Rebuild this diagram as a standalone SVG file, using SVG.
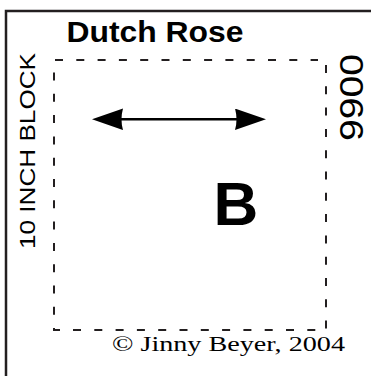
<svg xmlns="http://www.w3.org/2000/svg" width="371" height="376" viewBox="0 0 371 376">
<style>
.dash{fill:none;stroke:#231f20;stroke-width:2;stroke-dasharray:8 13.3}
.sans{font-family:"Liberation Sans",Arial,sans-serif;fill:#000}
.serif{font-family:"Liberation Serif","Times New Roman",serif;fill:#000}
</style>
<defs>
<marker id="ah" markerUnits="userSpaceOnUse" markerWidth="32" markerHeight="22" viewBox="0 0 32 22" refX="23" refY="10.75" orient="auto-start-reverse">
<path d="M0,0 L31,10.75 L0,21.5 Q3,10.75 0,0 Z" fill="#000"/>
</marker>
</defs>
<rect width="371" height="376" fill="#fff"/>
<g id="border">
<rect x="6" y="11" width="420" height="420" fill="none" stroke="#231f20" stroke-width="2.5"/>
</g>
<g id="block">
<path class="dash" d="M55,60 H318"/>
<path class="dash" d="M54,72.5 V330 H60"/>
<path class="dash" d="M73,330 H316"/>
<path class="dash" d="M326,65 V329"/>
</g>
<g id="title"><text class="sans" x="66.5" y="41.5" font-size="29" font-weight="bold" textLength="177" lengthAdjust="spacingAndGlyphs">Dutch Rose</text></g>
<g id="side-left"><text class="sans" transform="translate(34.5,249) rotate(-90)" x="0" y="0" font-size="22" textLength="196" lengthAdjust="spacingAndGlyphs">10 INCH BLOCK</text></g>
<g id="side-right"><text class="sans" transform="translate(363,141) rotate(-90)" x="0" y="0" font-size="33" textLength="87" lengthAdjust="spacingAndGlyphs">9900</text></g>
<g id="label-b"><text class="sans" x="213.5" y="225" font-size="62" font-weight="bold">B</text></g>
<g id="connectors">
<line x1="100" y1="119.3" x2="258" y2="119.3" stroke="#000" stroke-width="2.5" marker-start="url(#ah)" marker-end="url(#ah)"/>
</g>
<g id="credit"><text class="serif" x="112" y="351" font-size="20" textLength="233" lengthAdjust="spacingAndGlyphs">© Jinny Beyer, 2004</text></g>
</svg>
